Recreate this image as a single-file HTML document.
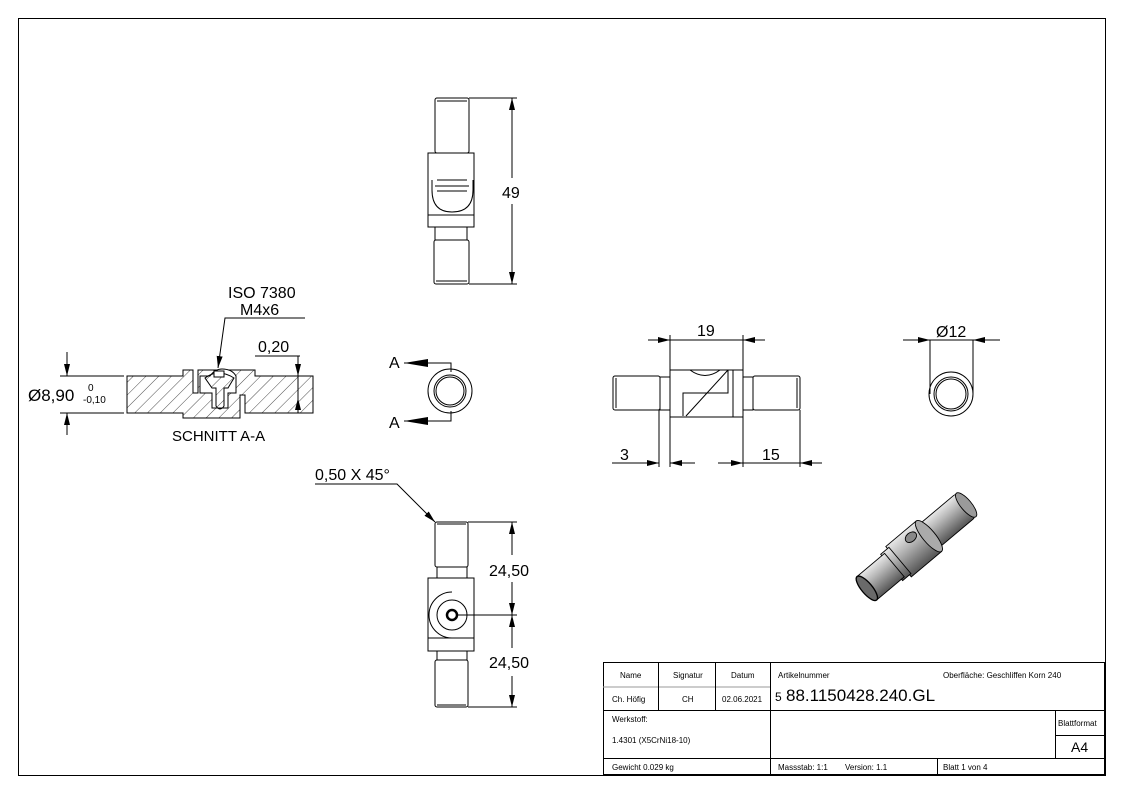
<!DOCTYPE html>
<html><head><meta charset="utf-8"><style>
html,body{margin:0;padding:0;background:#fff}
svg{display:block}
text{font-family:"Liberation Sans","DejaVu Sans",sans-serif;fill:#000}
</style></head><body>
<svg width="1123" height="794" viewBox="0 0 1123 794" xmlns="http://www.w3.org/2000/svg">
<defs>
<pattern id="h" width="9" height="9" patternUnits="userSpaceOnUse" patternTransform="rotate(45)"><line x1="0" y1="0" x2="0" y2="9" stroke="#000" stroke-width="0.7"/></pattern>
<marker id="ar" viewBox="0 0 12 6" refX="12" refY="3" markerWidth="12" markerHeight="6" orient="auto-start-reverse" markerUnits="userSpaceOnUse"><path d="M0,0 L12,3 L0,6z" fill="#000"/></marker>
<marker id="ab" viewBox="0 0 24 8" refX="24" refY="4" markerWidth="24" markerHeight="8" orient="auto" markerUnits="userSpaceOnUse"><path d="M0,0 L24,4 L0,8z" fill="#000"/></marker>
<linearGradient id="cyl" x1="0" y1="0" x2="0" y2="1"><stop offset="0" stop-color="#e8e8e8"/><stop offset="0.35" stop-color="#b8b8b8"/><stop offset="1" stop-color="#555"/></linearGradient>
</defs>
<g fill="none" stroke="#000" stroke-width="1">
<rect x="18.5" y="18.5" width="1087" height="757"/>

<!-- top view -->
<rect x="435" y="98" width="34" height="55" rx="2"/>
<line x1="437" y1="101" x2="467" y2="101"/>
<rect x="428" y="153" width="46" height="74"/>
<line x1="428" y1="215" x2="474" y2="215"/>
<path d="M432,180 L432,190 Q432,212 452,212 Q473,212 473,190 L473,180"/>
<line x1="437" y1="180" x2="467" y2="180"/><line x1="435" y1="186" x2="469" y2="186"/><line x1="437" y1="191" x2="467" y2="191"/>
<rect x="435" y="227" width="32" height="13"/>
<rect x="434" y="240" width="35" height="44" rx="2"/>
<line x1="436" y1="281" x2="467" y2="281"/>
<line x1="469" y1="98" x2="517" y2="98"/><line x1="469" y1="284" x2="517" y2="284"/>
<line x1="512" y1="98" x2="512" y2="178" marker-start="url(#ar)"/>
<line x1="512" y1="204" x2="512" y2="284" marker-end="url(#ar)"/>

<!-- section A-A -->
<path d="M127,376 H183 V370 H193 V393 H198 V370 H255 V376 H313 V413 H245 V395 H240 V418 H183 V413 H127 Z" fill="url(#h)"/>
<path d="M200,376 H210 Q215,369 222,369 Q232,369 236,376 V393 H228 V408 H212 V393 H200 Z" fill="#fff"/>
<path d="M205,378 Q218,368 234,378 L228,388 H224 V406 Q220,412 216,406 V388 H212 Z" fill="url(#h)"/>
<rect x="214" y="371" width="10" height="6" fill="#fff"/>
<line x1="298" y1="376" x2="298" y2="413"/>
<line x1="60" y1="376" x2="124" y2="376"/><line x1="60" y1="413" x2="124" y2="413"/>
<line x1="67" y1="352" x2="67" y2="376" marker-end="url(#ar)"/>
<line x1="67" y1="435" x2="67" y2="413" marker-end="url(#ar)"/>
<path d="M305,318 H225 L218,368" marker-end="url(#ar)"/>
<line x1="255" y1="356" x2="300" y2="356"/>
<line x1="298" y1="356" x2="298" y2="376" marker-end="url(#ar)"/>
<line x1="298" y1="398" x2="298" y2="413" marker-start="url(#ar)"/>

<!-- A view -->
<circle cx="450" cy="391" r="22"/><circle cx="450" cy="391" r="16"/><circle cx="450" cy="391" r="14"/>
<path d="M451,372 V363 H404" marker-end="url(#ab)"/>
<path d="M451,411 V421 H404" marker-end="url(#ab)"/>

<!-- side view -->
<rect x="613" y="376" width="47" height="34" rx="2"/>
<line x1="616" y1="378" x2="616" y2="408"/>
<rect x="660" y="377" width="10" height="33"/>
<rect x="670" y="370" width="73" height="47"/>
<path d="M683,416 V393 H728 V370 M733,370 V417 M686,416 L728,370 M690,370 Q705,381 720,370"/>
<rect x="743" y="377" width="10" height="33"/>
<rect x="753" y="376" width="47" height="34" rx="2"/>
<line x1="797" y1="378" x2="797" y2="408"/>
<line x1="670" y1="335" x2="670" y2="370"/><line x1="743" y1="335" x2="743" y2="370"/>
<line x1="648" y1="340" x2="670" y2="340" marker-end="url(#ar)"/>
<line x1="670" y1="340" x2="743" y2="340"/>
<line x1="765" y1="340" x2="743" y2="340" marker-end="url(#ar)"/>
<line x1="659" y1="410" x2="659" y2="467"/><line x1="670" y1="417" x2="670" y2="467"/>
<line x1="612" y1="463" x2="659" y2="463" marker-end="url(#ar)"/>
<line x1="695" y1="463" x2="670" y2="463" marker-end="url(#ar)"/>
<line x1="743" y1="417" x2="743" y2="467"/><line x1="800" y1="410" x2="800" y2="467"/>
<line x1="718" y1="463" x2="743" y2="463" marker-end="url(#ar)"/>
<line x1="743" y1="463" x2="800" y2="463"/>
<line x1="822" y1="463" x2="800" y2="463" marker-end="url(#ar)"/>

<!-- end view Ø12 -->
<circle cx="951" cy="394" r="22"/><circle cx="951" cy="394" r="17"/><circle cx="951" cy="394" r="15"/>
<line x1="930" y1="340" x2="930" y2="394"/><line x1="973" y1="340" x2="973" y2="394"/>
<line x1="903" y1="340" x2="930" y2="340" marker-end="url(#ar)"/>
<line x1="930" y1="340" x2="973" y2="340"/>
<line x1="1000" y1="340" x2="973" y2="340" marker-end="url(#ar)"/>

<!-- bottom view -->
<rect x="435" y="522" width="33" height="45" rx="2"/>
<line x1="437" y1="524" x2="466" y2="524"/>
<rect x="437" y="567" width="30" height="11"/>
<rect x="428" y="578" width="46" height="73"/>
<line x1="428" y1="638" x2="474" y2="638"/>
<path d="M452,592 A23,23 0 0 0 452,638"/>
<circle cx="452" cy="615" r="15"/><circle cx="452" cy="615" r="5" stroke-width="2.5"/>
<rect x="437" y="651" width="30" height="9"/>
<rect x="435" y="660" width="33" height="47" rx="2"/>
<line x1="437" y1="705" x2="466" y2="705"/>
<line x1="468" y1="522" x2="517" y2="522"/><line x1="458" y1="615" x2="517" y2="615"/><line x1="468" y1="707" x2="517" y2="707"/>
<line x1="512" y1="522" x2="512" y2="555" marker-start="url(#ar)"/>
<line x1="512" y1="582" x2="512" y2="615" marker-end="url(#ar)"/>
<line x1="512" y1="615" x2="512" y2="648" marker-start="url(#ar)"/>
<line x1="512" y1="676" x2="512" y2="707" marker-end="url(#ar)"/>
<path d="M315,484 H397 L435,522" marker-end="url(#ar)"/>

<!-- title block -->
<rect x="603.5" y="662.5" width="501" height="112"/>
<line x1="603" y1="687" x2="770" y2="687" stroke="#999"/>
<line x1="603" y1="710.5" x2="1105" y2="710.5"/>
<line x1="603" y1="758.5" x2="1105" y2="758.5"/>
<line x1="658.5" y1="662" x2="658.5" y2="710"/><line x1="715.5" y1="662" x2="715.5" y2="710"/>
<line x1="770.5" y1="662" x2="770.5" y2="775"/>
<line x1="1055.5" y1="710" x2="1055.5" y2="758"/><line x1="1055" y1="735.5" x2="1105" y2="735.5"/>
<line x1="937.5" y1="758" x2="937.5" y2="775"/>
</g>

<!-- 3D view -->
<g transform="translate(922,542) rotate(-40) scale(0.9)">
<rect x="-8" y="-17" width="72" height="34" rx="4" fill="url(#cyl)" stroke="#000"/>
<ellipse cx="64" cy="0" rx="6" ry="17" fill="#9a9a9a" stroke="#000"/>
<rect x="-34" y="-22" width="44" height="44" fill="url(#cyl)" stroke="#000"/>
<ellipse cx="10" cy="0" rx="7" ry="22" fill="#aaa" stroke="#000"/>
<rect x="-44" y="-19" width="12" height="38" fill="url(#cyl)" stroke="#000"/>
<rect x="-80" y="-17" width="40" height="34" fill="url(#cyl)" stroke="#000"/>
<ellipse cx="-80" cy="0" rx="6" ry="17" fill="#6a6a6a" stroke="#000" stroke-width="1.5"/>
<ellipse cx="-6" cy="-12" rx="7" ry="5" fill="#888" stroke="#000"/>
</g>

<g font-size="16">
<text x="502" y="198">49</text>
<text x="228" y="298">ISO 7380</text>
<text x="240" y="315">M4x6</text>
<text x="258" y="352">0,20</text>
<text x="28" y="401" font-size="17">Ø8,90</text>
<text x="88" y="391" font-size="10">0</text>
<text x="83" y="403" font-size="10">-0,10</text>
<text x="172" y="441" font-size="15">SCHNITT A-A</text>
<text x="389" y="368">A</text>
<text x="389" y="428">A</text>
<text x="697" y="336">19</text>
<text x="620" y="460">3</text>
<text x="762" y="460">15</text>
<text x="936" y="337">Ø12</text>
<text x="315" y="480">0,50 X 45°</text>
<rect x="488" y="560" width="48" height="20" fill="#fff"/>
<text x="489" y="576">24,50</text>
<rect x="488" y="652" width="48" height="20" fill="#fff"/>
<text x="489" y="668">24,50</text>
</g>
<g font-size="8">
<text x="620" y="678">Name</text>
<text x="673" y="678">Signatur</text>
<text x="731" y="678">Datum</text>
<text x="612" y="702">Ch. Höfig</text>
<text x="682" y="702">CH</text>
<text x="722" y="702">02.06.2021</text>
<text x="778" y="678">Artikelnummer</text>
<text x="943" y="678">Oberfläche:  Geschliffen Korn 240</text>
<text x="612" y="722">Werkstoff:</text>
<text x="612" y="743">1.4301 (X5CrNi18-10)</text>
<text x="1058" y="726">Blattformat</text>
<text x="612" y="770">Gewicht 0.029 kg</text>
<text x="778" y="770">Massstab: 1:1</text>
<text x="845" y="770">Version: 1.1</text>
<text x="943" y="770">Blatt 1 von 4</text>
</g>
<text x="775" y="701" font-size="12">5</text>
<text x="786" y="701" font-size="17">88.1150428.240.GL</text>
<text x="1071" y="752" font-size="14">A4</text>
</svg>
</body></html>
